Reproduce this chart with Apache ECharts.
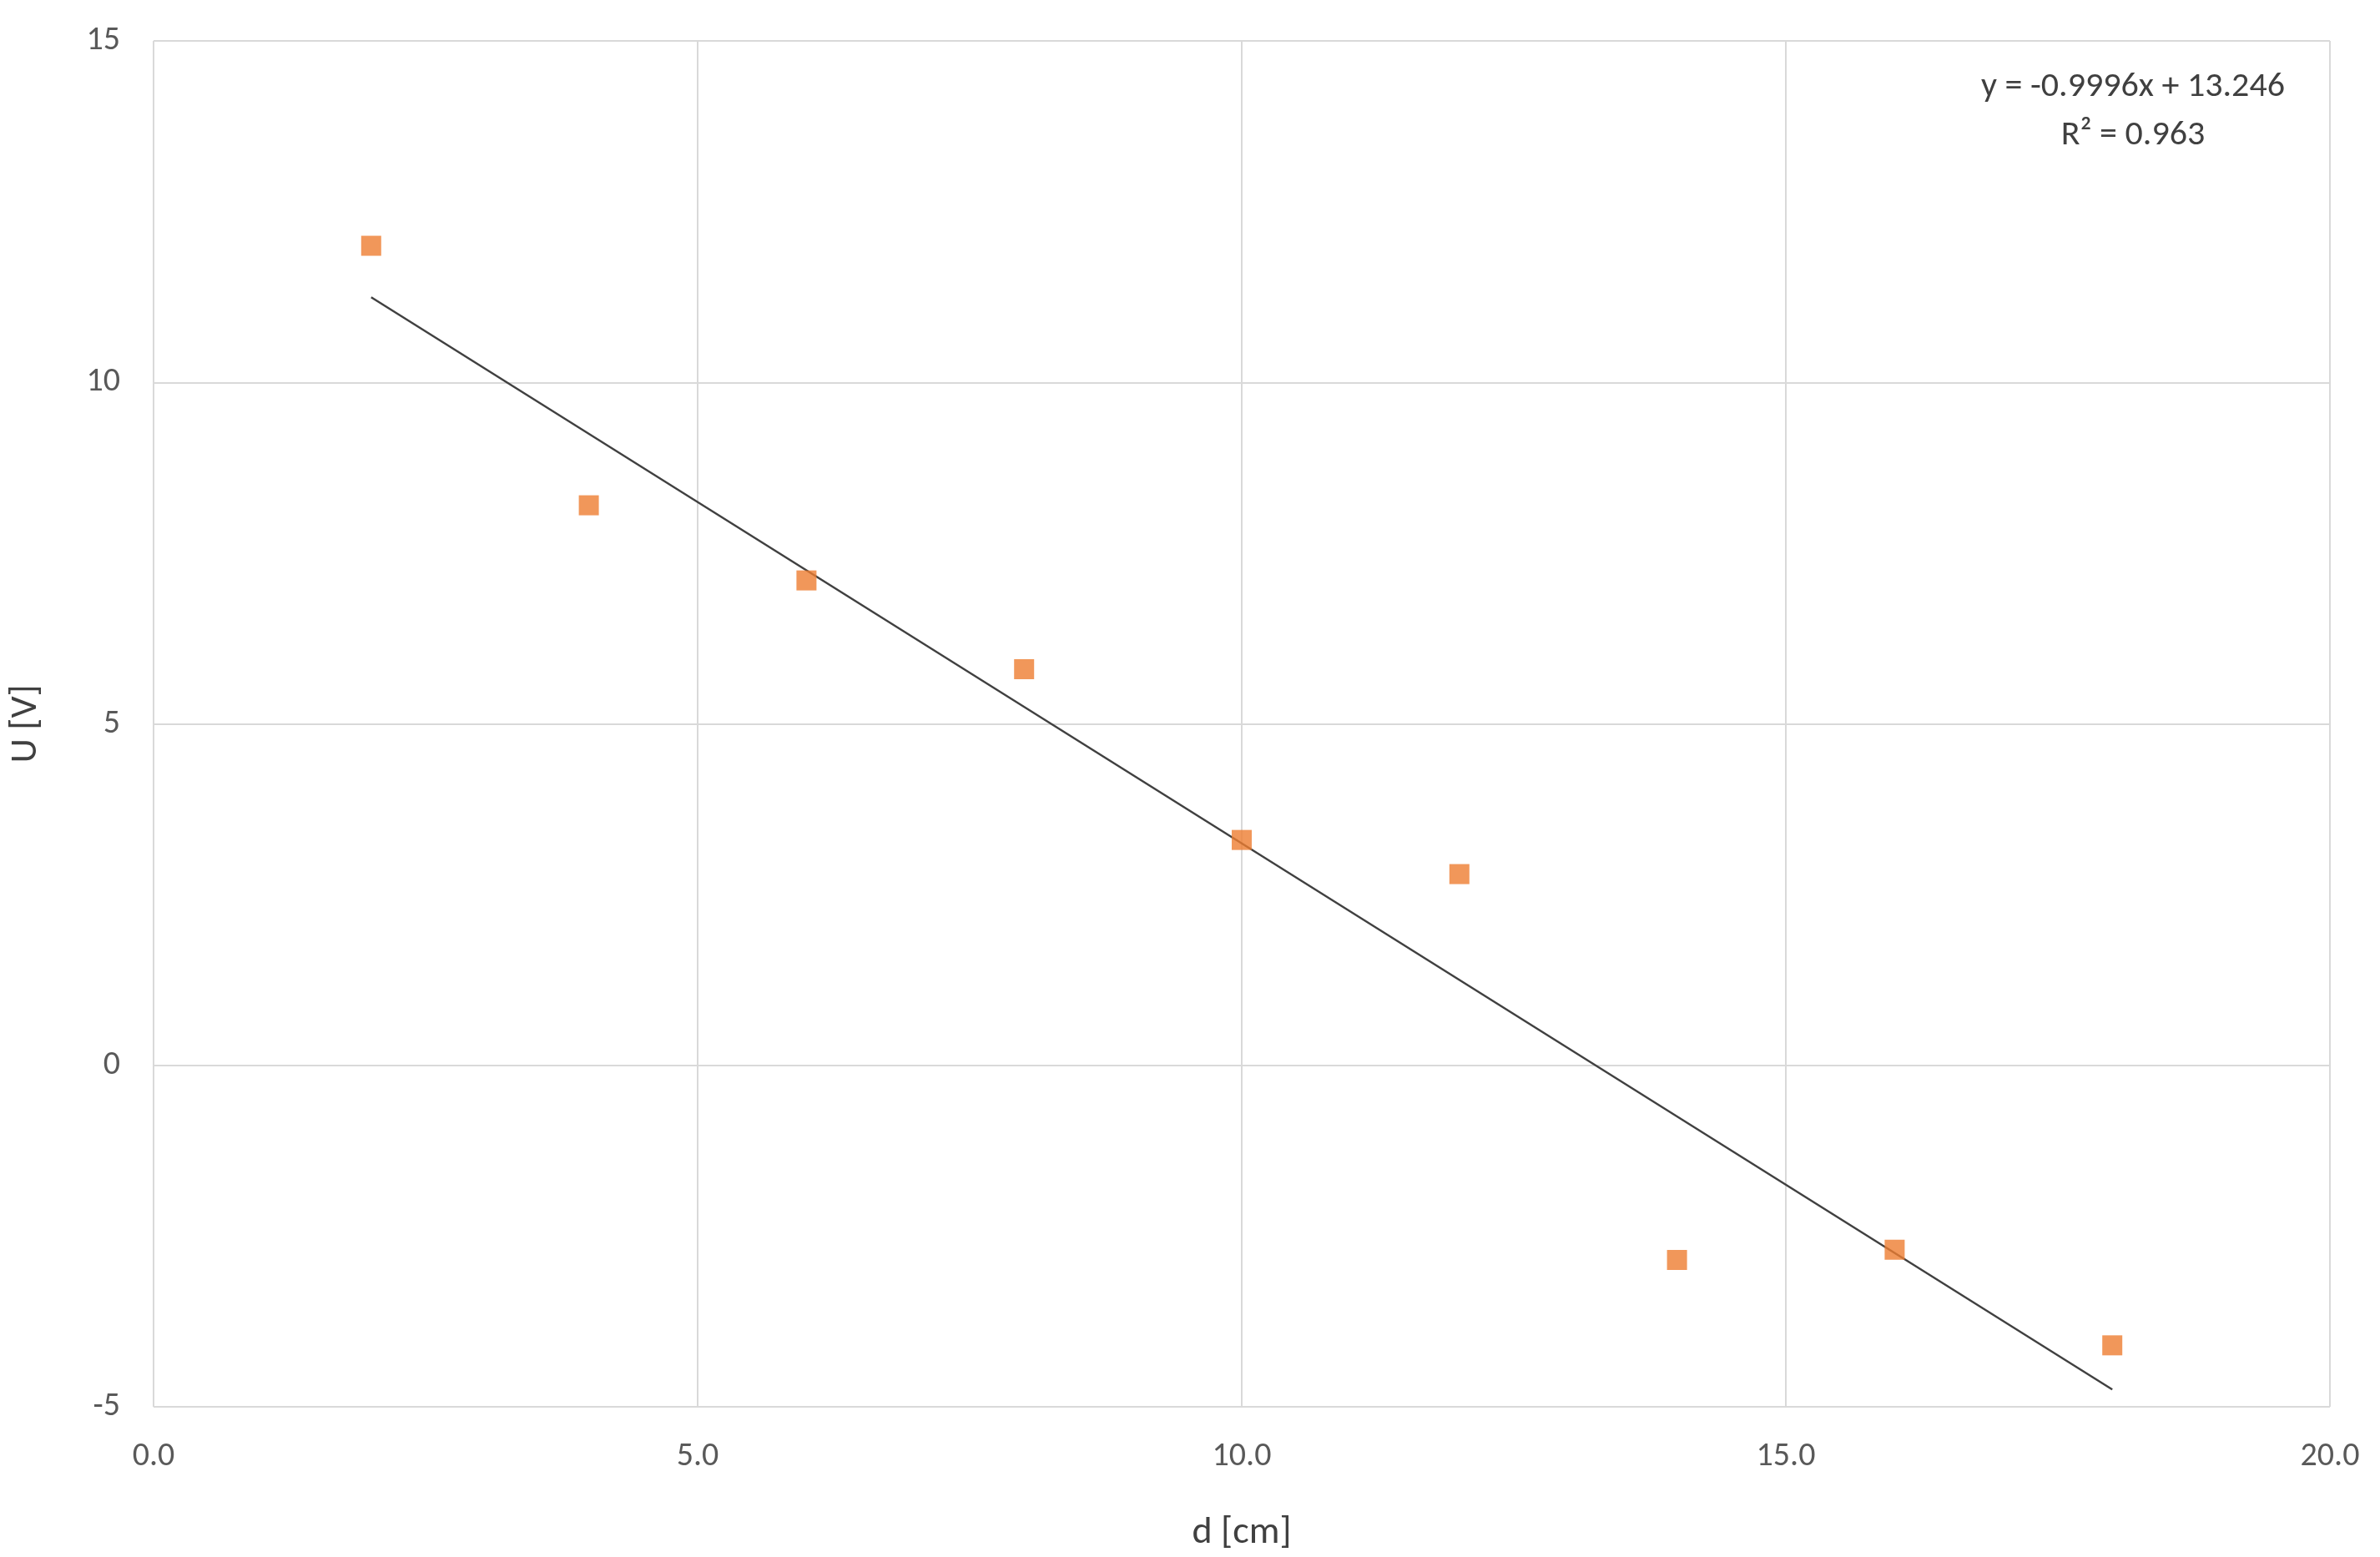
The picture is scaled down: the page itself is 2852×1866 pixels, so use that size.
<!DOCTYPE html>
<html lang="en">
  <head>
    <meta charset="UTF-8" />
    <title>U vs d</title>
    <script src="https://cdn.jsdelivr.net/npm/echarts@6/dist/echarts.min.js"></script>
    <style>
      html, body { margin: 0; padding: 0; background: #fff; }
      #chart { width: 2852px; height: 1866px; }
    </style>
  </head>
  <body>
    <div id="chart"></div>
    <script type="text/javascript">
      // measured points
      const distances = [2, 4, 6, 8, 10, 12, 14, 16, 18];
      const voltages = [12.0, 8.2, 7.1, 5.8, 3.3, 2.8, -2.85, -2.7, -4.1];

      // linear trendline as printed on the chart
      const slope = -0.9996;
      const intercept = 13.246;
      const rSquared = 0.963;
      const trendRange = [2, 18];

      const chart = echarts.init(document.getElementById("chart"));
      const font = "Calibri, Carlito, Lato, 'Open Sans', sans-serif";

      const points = distances.map((d, i) => [d, voltages[i]]);
      const trend = trendRange.map((x) => [x, slope * x + intercept]);

      chart.setOption({
        animation: false,
        grid: { left: 177, right: 60, top: 49, bottom: 180 },
        xAxis: {
          type: "value",
          min: 0,
          max: 20,
          interval: 5,
          name: "d [cm]",
          nameLocation: "middle",
          nameGap: 128,
          nameTextStyle: { fontSize: 46, color: "#404040", fontFamily: font },
          axisLine: { show: false },
          axisTick: { show: false },
          axisLabel: {
            fontSize: 40,
            color: "#595959",
            margin: 40,
            fontFamily: font,
            formatter: (v) => v.toFixed(1),
          },
          splitLine: { show: true, lineStyle: { color: "#d9d9d9", width: 2 } },
        },
        yAxis: {
          type: "value",
          min: -5,
          max: 15,
          interval: 5,
          name: "U [V]",
          nameLocation: "middle",
          nameGap: 130,
          nameTextStyle: { fontSize: 46, color: "#404040", fontFamily: font },
          axisLine: { show: false },
          axisTick: { show: false },
          axisLabel: { fontSize: 40, color: "#595959", margin: 40, fontFamily: font },
          splitLine: { show: true, lineStyle: { color: "#d9d9d9", width: 2 } },
        },
        series: [
          {
            type: "line",
            data: trend,
            symbol: "none",
            lineStyle: { color: "#404040", width: 2.5 },
            z: 2,
          },
          {
            type: "scatter",
            data: points,
            symbol: "rect",
            symbolSize: 24,
            itemStyle: { color: "#ED7D31" },
            z: 3,
          },
        ],
        graphic: [
          {
            type: "text",
            x: 2556,
            y: 75,
            style: {
              text: "y = " + slope + "x + " + intercept + "\nR\u00b2 = " + rSquared,
              fontSize: 42,
              lineHeight: 58,
              fill: "#404040",
              fontFamily: font,
              textAlign: "center",
              align: "center",
            },
          },
        ],
      });
    </script>
  </body>
</html>
